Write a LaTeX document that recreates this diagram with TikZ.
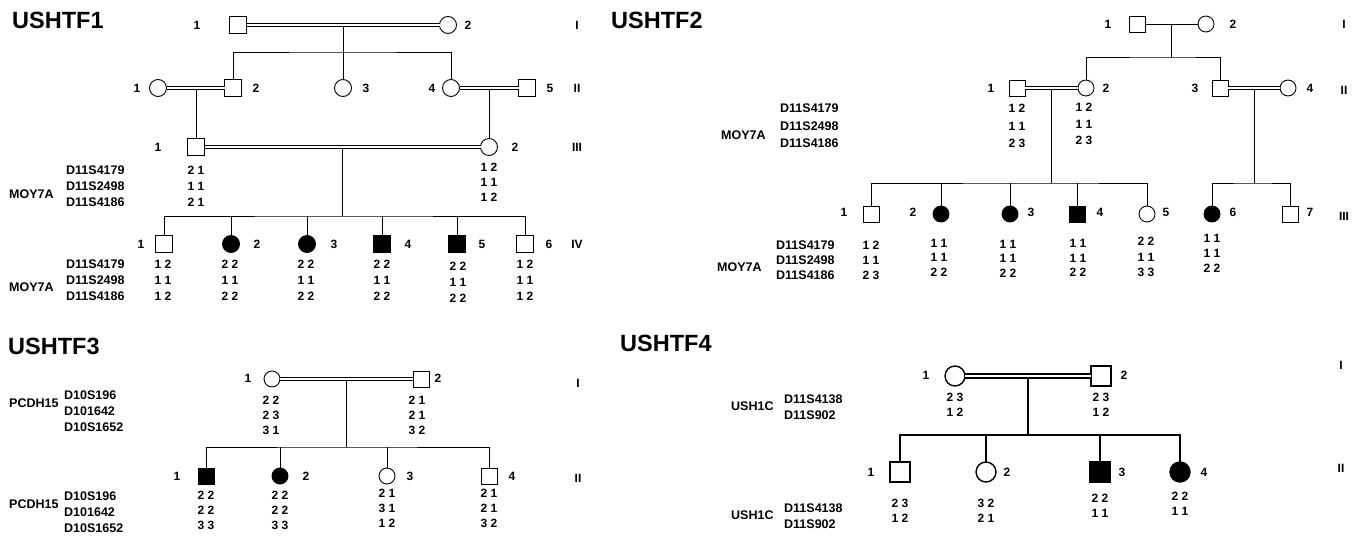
\documentclass[tikz,border=0pt]{standalone}
\usepackage{fontspec}
\setmainfont{Liberation Sans}
\begin{document}
\begin{tikzpicture}[x=1pt,y=-1pt,
  ln/.style={line width=0.9pt},
  mal/.style={draw, line width=0.9pt, minimum size=17pt, inner sep=0pt, outer sep=0pt},
  fem/.style={mal, circle},
  sml/.style={minimum size=16pt},
  big/.style={minimum size=20pt, line width=1.4pt},
  aff/.style={fill=black},
  mar/.style={double, double distance=2.2pt, line width=0.8pt},
  marb/.style={double, double distance=2.6pt, line width=1.3pt},
  num/.style={font=\bfseries\fontsize{12}{13}\selectfont, inner sep=0pt},
  gen/.style={font=\bfseries\fontsize{12}{13}\selectfont, inner sep=0pt},
  gt/.style={font=\bfseries\fontsize{12}{13}\selectfont, inner sep=0pt},
  mk/.style={font=\bfseries\fontsize{12.5}{13}\selectfont, inner sep=0pt, anchor=west},
  ttl/.style={font=\bfseries\fontsize{23.5}{24}\selectfont, inner sep=0pt, anchor=west}]
\useasboundingbox (0,0) rectangle (1356,536);

% ================= USHTF1 =================
\node[ttl] (t1) at (12,20) {USHTF1};
\node[mal] (a11) at (238,25) {};
\node[fem] (a12) at (448,25) {};
\node[fem] (a21) at (158,88) {};
\node[mal] (a22) at (233,88) {};
\node[fem] (a23) at (343,88) {};
\node[fem] (a24) at (451,88) {};
\node[mal] (a25) at (527,88) {};
\node[mal] (a31) at (196,147) {};
\node[fem] (a32) at (489,147) {};
\node[mal] (a41) at (164,244) {};
\node[fem,aff] (a42) at (231,244) {};
\node[fem,aff] (a43) at (307,244) {};
\node[mal,aff] (a44) at (382,244) {};
\node[mal,aff] (a45) at (457,244) {};
\node[mal] (a46) at (525,244) {};
\coordinate (am1) at (343,25);
\coordinate (as1) at (343,52);
\coordinate (am2) at (196,88);
\coordinate (am3) at (489,88);
\coordinate (am4) at (342.5,147);
\coordinate (as4) at (342.5,216);
\draw[ln] (am1) -- (as1);
\draw[ln] (a22.north) |- (as1) -| (a24.north);
\draw[ln] (a23.north) -- (a23.north |- as1);
\draw[ln] (am2) -- (a31.north);
\draw[ln] (am3) -- (a32.north);
\draw[ln] (am4) -- (as4);
\draw[ln] (a41.north) |- (as4) -| (a46.north);
\foreach \c in {a42,a43,a44,a45} \draw[ln] (\c.north) -- (\c.north |- as4);
\draw[mar] (a11) -- (a12);
\draw[mar] (a21) -- (a22);
\draw[mar] (a24) -- (a25);
\draw[mar] (a31) -- (a32);
\foreach \n/\x/\y/\t in {a11n/197/25/1, a12n/468/25/2, a21n/137/88/1, a22n/256/88/2,
  a23n/366/88/3, a24n/432/88/4, a25n/550/88/5, a31n/158/147/1, a32n/515/147/2,
  a41n/141/244/1, a42n/257/244/2, a43n/334/244/3, a44n/408/244/4, a45n/482/244/5, a46n/549/244/6}
  \node[num] (\n) at (\x,\y) {\t};
\foreach \n/\y/\t in {ag1/25/I, ag2/88/II, ag3/147/III, ag4/244/IV}
  \node[gen] (\n) at (577,\y) {\t};
\foreach \n/\y/\t in {ak1/170/D11S4179, ak2/186/D11S2498, ak3/202/D11S4186,
  ak4/264/D11S4179, ak5/280/D11S2498, ak6/296/D11S4186}
  \node[mk] (\n) at (66,\y) {\t};
\node[mk] (ak7) at (9,194) {MOY7A};
\node[mk] (ak8) at (9,287) {MOY7A};
\foreach \n/\x/\y/\t in {
  ag311/196/170/2 1, ag312/196/186/1 1, ag313/196/202/2 1,
  ag321/489/167/1 2, ag322/489/182/1 1, ag323/489/197/1 2,
  ag411/163/264/1 2, ag412/163/280/1 1, ag413/163/296/1 2,
  ag421/230/264/2 2, ag422/230/280/1 1, ag423/230/296/2 2,
  ag431/306/264/2 2, ag432/306/280/1 1, ag433/306/296/2 2,
  ag441/382/264/2 2, ag442/382/280/1 1, ag443/382/296/2 2,
  ag451/458/266/2 2, ag452/458/282/1 1, ag453/458/298/2 2,
  ag461/525/264/1 2, ag462/525/280/1 1, ag463/525/296/1 2}
  \node[gt] (\n) at (\x,\y) {\t};

% ================= USHTF2 =================
\node[ttl] (t2) at (611,20) {USHTF2};
\node[mal,sml] (b11) at (1137,24) {};
\node[fem,sml] (b12) at (1206,24) {};
\node[mal,sml] (b21) at (1017,88) {};
\node[fem,sml] (b22) at (1086,88) {};
\node[mal,sml] (b23) at (1220,88) {};
\node[fem,sml] (b24) at (1288,88) {};
\node[mal,sml] (b31) at (871,214) {};
\node[fem,sml,aff] (b32) at (941,214) {};
\node[fem,sml,aff] (b33) at (1010,214) {};
\node[mal,sml,aff] (b34) at (1077,214) {};
\node[fem,sml] (b35) at (1147,214) {};
\node[fem,sml,aff] (b36) at (1212,214) {};
\node[mal,sml] (b37) at (1290,214) {};
\coordinate (bm1) at (1171.5,24);
\coordinate (bs1) at (1171.5,57);
\coordinate (bm2) at (1051.5,88);
\coordinate (bs2) at (1051.5,183);
\coordinate (bm3) at (1254,88);
\coordinate (bs3) at (1254,183);
\draw[ln] (bm1) -- (bs1);
\draw[ln] (b22.north) |- (bs1) -| (b23.north);
\draw[ln] (bm2) -- (bs2);
\draw[ln] (b31.north) |- (bs2) -| (b35.north);
\foreach \c in {b32,b33,b34} \draw[ln] (\c.north) -- (\c.north |- bs2);
\draw[ln] (bm3) -- (bs3);
\draw[ln] (b36.north) |- (bs3) -| (b37.north);
\draw[ln] (b11) -- (b12);
\draw[mar] (b21) -- (b22);
\draw[mar] (b23) -- (b24);
\foreach \n/\x/\y/\t in {b11n/1108/24/1, b12n/1233/24/2, b21n/991/88/1, b22n/1106/88/2,
  b23n/1195/88/3, b24n/1310/88/4, b31n/844/212/1, b32n/913/212/2, b33n/1031/212/3,
  b34n/1100/212/4, b35n/1166/212/5, b36n/1233/212/6, b37n/1310/212/7}
  \node[num] (\n) at (\x,\y) {\t};
\foreach \n/\y/\t in {bg1/24/I, bg2/90/II, bg3/216/III}
  \node[gen] (\n) at (1344,\y) {\t};
\foreach \n/\x/\y/\t in {bk1/780/108/D11S4179, bk2/780/126/D11S2498, bk3/780/143/D11S4186,
  bk4/776/245/D11S4179, bk5/776/260/D11S2498, bk6/776/275/D11S4186,
  bk7/721/135/MOY7A, bk8/717/267/MOY7A}
  \node[mk] (\n) at (\x,\y) {\t};
\foreach \n/\x/\y/\t in {
  bg211/1017/108/1 2, bg212/1017/126/1 1, bg213/1017/143/2 3,
  bg221/1084/107/1 2, bg222/1084/124/1 1, bg223/1084/140/2 3,
  bg311/871/245/1 2, bg312/871/260/1 1, bg313/871/275/2 3,
  bg321/939/243/1 1, bg322/939/257/1 1, bg323/939/272/2 2,
  bg331/1008/244/1 1, bg332/1008/258/1 1, bg333/1008/273/2 2,
  bg341/1078/243/1 1, bg342/1078/258/1 1, bg343/1078/272/2 2,
  bg351/1146/241/2 2, bg352/1146/257/1 1, bg353/1146/272/3 3,
  bg361/1212/238/1 1, bg362/1212/253/1 1, bg363/1212/268/2 2}
  \node[gt] (\n) at (\x,\y) {\t};

% ================= USHTF3 =================
\node[ttl] (t3) at (8,346) {USHTF3};
\node[fem,sml] (c11) at (272,379) {};
\node[mal,sml] (c12) at (421,379) {};
\node[mal,sml,aff] (c21) at (206,476) {};
\node[fem,sml,aff] (c22) at (280,476) {};
\node[fem,sml] (c23) at (387,476) {};
\node[mal,sml] (c24) at (489,476) {};
\coordinate (cm1) at (346.5,379);
\coordinate (cs1) at (346.5,447);
\draw[ln] (cm1) -- (cs1);
\draw[ln] (c21.north) |- (cs1) -| (c24.north);
\foreach \c in {c22,c23} \draw[ln] (\c.north) -- (\c.north |- cs1);
\draw[mar] (c11) -- (c12);
\foreach \n/\x/\y/\t in {c11n/248/378/1, c12n/438/378/2, c21n/177/476/1, c22n/306/476/2,
  c23n/410/476/3, c24n/512/476/4}
  \node[num] (\n) at (\x,\y) {\t};
\foreach \n/\y/\t in {cg1/383/I, cg2/478/II}
  \node[gen] (\n) at (578,\y) {\t};
\foreach \n/\y/\t in {ck1/395/D10S196, ck2/411/D101642, ck3/427/D10S1652,
  ck4/496/D10S196, ck5/512/D101642, ck6/528/D10S1652}
  \node[mk] (\n) at (64,\y) {\t};
\node[mk] (ck7) at (9,403) {PCDH15};
\node[mk] (ck8) at (9,504) {PCDH15};
\foreach \n/\x/\y/\t in {
  cg111/271/400/2 2, cg112/271/415/2 3, cg113/271/430/3 1,
  cg121/417/400/2 1, cg122/417/415/2 1, cg123/417/430/3 2,
  cg211/206/495/2 2, cg212/206/510/2 2, cg213/206/525/3 3,
  cg221/280/495/2 2, cg222/280/510/2 2, cg223/280/525/3 3,
  cg231/387/493/2 1, cg232/387/508/3 1, cg233/387/523/1 2,
  cg241/489/493/2 1, cg242/489/508/2 1, cg243/489/523/3 2}
  \node[gt] (\n) at (\x,\y) {\t};

% ================= USHTF4 =================
\node[ttl] (t4) at (620,343) {USHTF4};
\node[fem,big] (d11) at (955,376) {};
\node[mal,big] (d12) at (1101,376) {};
\node[mal,big] (d21) at (900,472) {};
\node[fem,big] (d22) at (986,472) {};
\node[mal,big,aff] (d23) at (1100,472) {};
\node[fem,big,aff] (d24) at (1180,472) {};
\coordinate (dm1) at (1028,376);
\coordinate (ds1) at (1028,435);
\draw[ln,line width=1.4pt] (dm1) -- (ds1);
\draw[ln,line width=1.4pt] (d21.north) |- (ds1) -| (d24.north);
\foreach \c in {d22,d23} \draw[ln,line width=1.4pt] (\c.north) -- (\c.north |- ds1);
\draw[marb] (d11) -- (d12);
\foreach \n/\x/\y/\t in {d11n/926/375/1, d12n/1124/375/2, d21n/871/472/1, d22n/1007/472/2,
  d23n/1122/472/3, d24n/1204/472/4}
  \node[num] (\n) at (\x,\y) {\t};
\foreach \n/\y/\t in {dg1/365/I, dg2/468/II}
  \node[gen] (\n) at (1341,\y) {\t};
\foreach \n/\y/\t in {dk1/399/D11S4138, dk2/415/D11S902, dk3/508/D11S4138, dk4/524/D11S902}
  \node[mk] (\n) at (784,\y) {\t};
\node[mk] (dk5) at (731,406) {USH1C};
\node[mk] (dk6) at (731,515) {USH1C};
\foreach \n/\x/\y/\t in {
  dg111/955/397/2 3, dg112/955/412/1 2,
  dg121/1101/397/2 3, dg122/1101/412/1 2,
  dg211/900/503/2 3, dg212/900/518/1 2,
  dg221/986/503/3 2, dg222/986/518/2 1,
  dg231/1100/498/2 2, dg232/1100/513/1 1,
  dg241/1180/496/2 2, dg242/1180/511/1 1}
  \node[gt] (\n) at (\x,\y) {\t};
\end{tikzpicture}
\end{document}
